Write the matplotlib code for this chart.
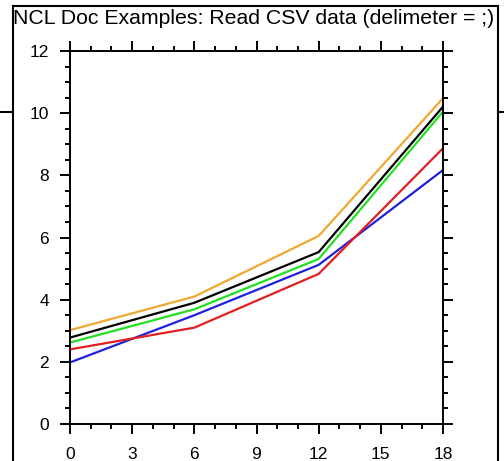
import matplotlib
matplotlib.use("Agg")
import matplotlib.pyplot as plt
from matplotlib.lines import Line2D
from matplotlib.ticker import MultipleLocator

plt.rcParams['font.family'] = ['Liberation Sans', 'DejaVu Sans']

x = [0, 6, 12, 18]
orange = [3.02, 4.1, 6.05, 10.48]
black = [2.78, 3.9, 5.53, 10.21]
green = [2.62, 3.69, 5.31, 10.05]
blue = [1.98, 3.5, 5.12, 8.17]
red = [2.40, 3.1, 4.83, 8.87]
series = [(orange, "#f0a830"), (black, "black"), (green, "#22e022"), (blue, "#2020e0"), (red, "#e02020")]
title = "NCL Doc Examples: Read CSV data (delimeter = ;)"

W, H = 504, 461
fig = plt.figure(figsize=(W / 100, H / 100), dpi=100)
ax = fig.add_axes([70 / W, 1 - 424 / H, (443 - 70) / W, (424 - 51) / H])

for ys, c in series:
    ax.plot(x, ys, color=c, lw=1.6, solid_joinstyle='miter')

ax.set_xlim(0, 18)
ax.set_ylim(0, 12)
ax.xaxis.set_major_locator(MultipleLocator(3))
ax.xaxis.set_minor_locator(MultipleLocator(1))
ax.yaxis.set_major_locator(MultipleLocator(2))
ax.yaxis.set_minor_locator(MultipleLocator(0.5))
for sp in ax.spines.values():
    sp.set_linewidth(1.4)
ax.tick_params(which='both', direction='out', top=True, right=True, width=1.4, labelsize=12.5, colors='black')
ax.tick_params(which='major', length=7.2)
ax.tick_params(which='minor', length=3.6)
ax.tick_params(axis='x', which='major', pad=9.5)
ax.tick_params(axis='y', which='major', pad=8)
ax.tick_params(axis='x', which='both', labeltop=False)
ax.tick_params(axis='y', which='both', labelright=False)
for lab in ax.get_xticklabels() + ax.get_yticklabels():
    lab.set_fontweight('medium')

fig.text(0.5 + 2 / W, 1 - 18 / H, title, ha='center', va='center', fontsize=15.3)

# screenshot frame
lw = 1.5
fig.add_artist(Line2D([13 / W, 13 / W], [0, 1 - 6 / H], transform=fig.transFigure, color='black', lw=lw))
fig.add_artist(Line2D([498 / W, 498 / W], [0, 1 - 6 / H], transform=fig.transFigure, color='black', lw=lw))
fig.add_artist(Line2D([13 / W, 498 / W], [1 - 6 / H, 1 - 6 / H], transform=fig.transFigure, color='black', lw=lw))
fig.add_artist(Line2D([0, 13 / W], [1 - 112 / H, 1 - 112 / H], transform=fig.transFigure, color='black', lw=lw))
fig.add_artist(Line2D([498 / W, 1], [1 - 112 / H, 1 - 112 / H], transform=fig.transFigure, color='black', lw=lw))

fig.savefig("out.png", dpi=100)
